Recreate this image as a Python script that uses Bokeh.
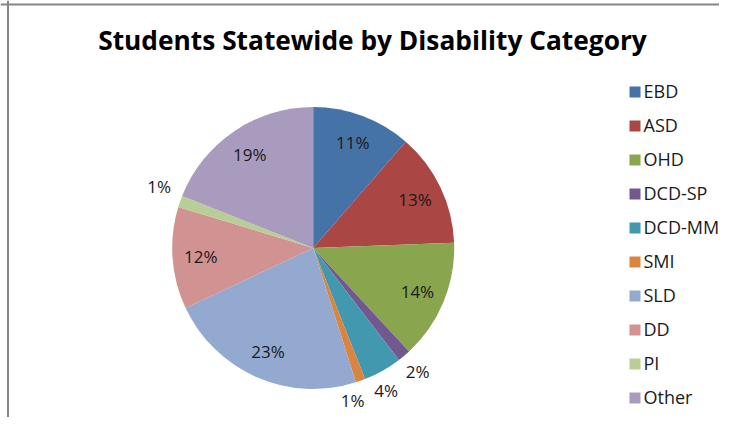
import numpy as np
from bokeh.plotting import figure
from bokeh.models import Range1d, Span, ColumnDataSource
from bokeh.core.properties import value
from bokeh.embed import file_html
from bokeh.resources import INLINE

# ---- data ----
title_text = "Students Statewide by Disability Category"
categories = ["EBD", "ASD", "OHD", "DCD-SP", "DCD-MM", "SMI", "SLD", "DD", "PI", "Other"]
shares = [11.4, 13.0, 13.7, 1.5, 4.4, 1.1, 22.9, 11.7, 1.3, 19.0]
colors = ["#4572A7", "#AA4643", "#89A54E", "#71588F", "#4198AF",
          "#DB843D", "#93A9CF", "#D19392", "#B9CD96", "#A99BBD"]

# ---- layout (pixel-like coordinates; y flipped) ----
W, H = 719, 417
def Y(py):
    return H - py

CX, CY, R = 312.7, Y(247.5), 141.0
FONT = "Open Sans"
TXT = "#1a1a1a"
LABEL_PX = 17
LEGEND_PX = 18
# screen-pixel nudges for outside labels (best-fit placement as in the original)
LABEL_NUDGE = {"DCD-MM": (-7, 1), "SMI": (-15, 0), "PI": (-1, -8)}

p = figure(width=W, height=H, x_range=Range1d(0, W), y_range=Range1d(0, H),
           output_backend="svg", toolbar_location=None, min_border=0)
p.axis.visible = False
p.grid.visible = False
p.outline_line_color = None
p.background_fill_color = "white"
p.border_fill_color = "white"

# frame (left + top edge as in the reference)
p.add_layout(Span(location=7.5, dimension="height", line_color="#868686", line_width=2))
p.add_layout(Span(location=Y(4), dimension="width", line_color="#868686", line_width=2))

vals = np.array(shares, dtype=float)
frac = vals / vals.sum()
cum = np.concatenate([[0], np.cumsum(frac)])
start = np.pi / 2 - 2 * np.pi * cum[:-1]
end = np.pi / 2 - 2 * np.pi * cum[1:]
mid = (start + end) / 2

src = ColumnDataSource(dict(cat=categories, start=start, end=end, color=colors))
p.wedge(x=CX, y=CY, radius=R, start_angle="start", end_angle="end", direction="clock",
        fill_color="color", line_color=None, source=src)

# data labels
lab_r = np.where(vals < 5, R * 1.15, R * 0.8)
lx = CX + lab_r * np.cos(mid)
ly = CY + lab_r * np.sin(mid)
nx = np.array([LABEL_NUDGE.get(c, (0, 0))[0] for c in categories], dtype=float)
ny = np.array([LABEL_NUDGE.get(c, (0, 0))[1] for c in categories], dtype=float)
lx = lx + nx
ly = ly - ny
labels = [f"{int(round(v))}%" for v in vals]
p.text(x=lx, y=ly, text=labels, text_font=value(FONT), text_font_size=f"{LABEL_PX}px",
       text_color=TXT, text_align="center", text_baseline="middle")

# title
p.text(x=[372], y=[Y(39.3)], text=[title_text], text_font=value(FONT),
       text_font_size="26.3px", text_font_style="bold", text_color="black",
       text_align="center", text_baseline="middle")

# legend
idx = np.arange(len(categories))
row_c = 91.5 + idx * 34.0
p.rect(x=634.5, y=Y(row_c), width=11, height=11, fill_color=colors, line_color=None)
p.text(x=643, y=Y(row_c - 1), text=categories, text_font=value(FONT),
       text_font_size=f"{LEGEND_PX}px", text_color=TXT, text_align="left",
       text_baseline="middle")

open("out.html", "w").write(file_html(p, INLINE))
